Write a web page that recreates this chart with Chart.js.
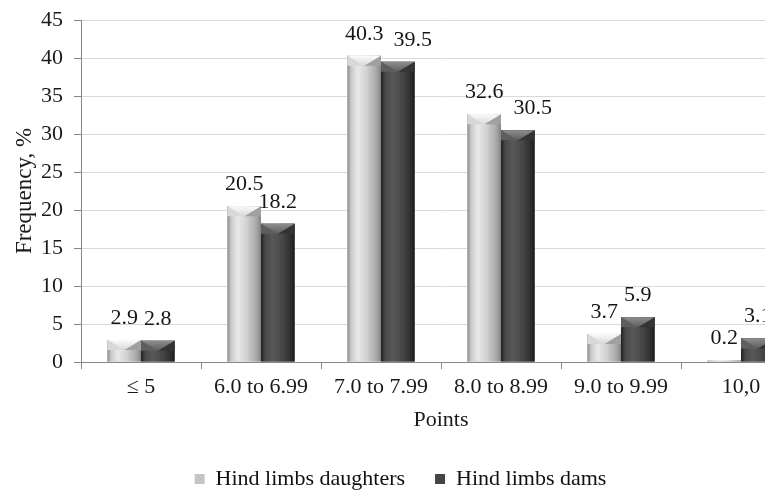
<!DOCTYPE html>
<html>
<head>
<meta charset="utf-8">
<style>
  html, body { margin: 0; padding: 0; overflow: hidden; background: #ffffff; }
  canvas { display: block; }
</style>
<script src="https://cdn.jsdelivr.net/npm/chart.js@4.4.1/dist/chart.umd.min.js"></script>
</head>
<body>
<canvas id="chart" width="840" height="490"></canvas>
<script>
// Score classes and frequencies (%) of hind-limb scores
const categories = ['\u2264 5', '6.0 to 6.99', '7.0 to 7.99', '8.0 to 8.99', '9.0 to 9.99', '10,0'];
const daughters = [2.9, 20.5, 40.3, 32.6, 3.7, 0.2];
const dams = [2.8, 18.2, 39.5, 30.5, 5.9, 3.1];
const seriesNames = ['Hind limbs daughters', 'Hind limbs dams'];
const yMin = 0, yMax = 45, yStep = 5;

const FONT = 'Liberation Serif';

// Shading used to give each bar a bevelled, cylindrical look
const lightShade = {
  base: '#c4c4c4',
  body: [[0, '#8e8e8e'], [0.12, '#cbcbcb'], [0.3, '#e8e8e8'], [0.55, '#d4d4d4'], [0.85, '#aaaaaa'], [1, '#848484']],
  cap: '#fbfbfb', capLeft: '#d8d8d8', capRight: '#a0a0a0'
};
const darkShade = {
  base: '#454545',
  body: [[0, '#202020'], [0.12, '#484848'], [0.35, '#585858'], [0.65, '#464646'], [0.9, '#2c2c2c'], [1, '#1c1c1c']],
  cap: '#8e8e8e', capLeft: '#5e5e5e', capRight: '#343434'
};

const bevelBars = {
  id: 'bevelBars',
  afterDatasetsDraw(chart) {
    const ctx = chart.ctx;
    chart.data.datasets.forEach((ds, di) => {
      const meta = chart.getDatasetMeta(di);
      const shade = ds.shade;
      meta.data.forEach(bar => {
        const p = bar.getProps(['x', 'y', 'base', 'width'], true);
        const x0 = p.x - p.width / 2, x1 = p.x + p.width / 2;
        const top = p.y, h = p.base - p.y;
        if (h <= 0) return;
        ctx.save();
        const g = ctx.createLinearGradient(x0, 0, x1, 0);
        shade.body.forEach(([o, c]) => g.addColorStop(o, c));
        ctx.fillStyle = g;
        ctx.fillRect(x0, top, p.width, h);
        const bh = Math.min(10, h * 0.55);
        // left facet
        ctx.fillStyle = shade.capLeft;
        ctx.beginPath();
        ctx.moveTo(x0, top); ctx.lineTo(p.x, top + bh); ctx.lineTo(x0, top + bh); ctx.closePath();
        ctx.fill();
        // right facet
        ctx.fillStyle = shade.capRight;
        ctx.beginPath();
        ctx.moveTo(x1, top); ctx.lineTo(p.x, top + bh); ctx.lineTo(x1, top + bh); ctx.closePath();
        ctx.fill();
        // top facet
        const cg = ctx.createLinearGradient(0, top, 0, top + bh);
        cg.addColorStop(0, shade.cap);
        cg.addColorStop(1, shade.capLeft);
        ctx.fillStyle = cg;
        ctx.beginPath();
        ctx.moveTo(x0, top); ctx.lineTo(x1, top); ctx.lineTo(p.x, top + bh); ctx.closePath();
        ctx.fill();
        ctx.restore();
      });
    });
  }
};

// Value labels above the bars; a label that would collide with the
// label of the neighbouring bar in the same group is nudged to the right.
const valueLabels = {
  id: 'valueLabels',
  afterDatasetsDraw(chart) {
    const ctx = chart.ctx;
    ctx.save();
    ctx.font = '22px "' + FONT + '"';
    ctx.fillStyle = '#151515';
    ctx.textAlign = 'left';
    ctx.textBaseline = 'alphabetic';
    const placed = [];
    chart.data.datasets.forEach((ds, di) => {
      const meta = chart.getDatasetMeta(di);
      meta.data.forEach((bar, i) => {
        const text = ds.data[i].toFixed(1);
        const w = ctx.measureText(text).width;
        let left = bar.x - w / 2;
        const base = bar.y - 16;
        const prev = di > 0 ? placed[(di - 1) * 1000 + i] : null;
        if (prev && Math.abs(prev.base - base) < 17 && left < prev.right) {
          left = prev.right + 10;
        }
        ctx.fillText(text, left, base);
        placed[di * 1000 + i] = { right: left + w, base };
      });
    });
    ctx.restore();
  }
};

new Chart(document.getElementById('chart'), {
  type: 'bar',
  data: {
    labels: categories,
    datasets: [
      { label: seriesNames[0], data: daughters, backgroundColor: lightShade.base, shade: lightShade,
        borderWidth: 0, categoryPercentage: 0.56, barPercentage: 1 },
      { label: seriesNames[1], data: dams, backgroundColor: darkShade.base, shade: darkShade,
        borderWidth: 0, categoryPercentage: 0.56, barPercentage: 1 }
    ]
  },
  options: {
    responsive: false,
    animation: false,
    events: [],
    layout: { padding: { top: 20, right: 39, bottom: -10, left: 0 } },
    scales: {
      x: {
        grid: { display: true, drawOnChartArea: false, drawTicks: true, tickLength: 7, color: '#868686', offset: true },
        border: { display: true, color: '#868686' },
        ticks: { color: '#1a1a1a', font: { family: FONT, size: 22 }, padding: 5, maxRotation: 0, autoSkip: false },
        title: { display: true, text: 'Points', color: '#1a1a1a', font: { family: FONT, size: 22 }, padding: { top: 4, bottom: 5 } },
        afterFit(scale) { scale.height = 76; }
      },
      y: {
        min: yMin, max: yMax,
        grid: { color: '#d9d9d9', tickColor: '#868686', tickLength: 7 },
        border: { display: true, color: '#868686' },
        ticks: { stepSize: yStep, color: '#1a1a1a', font: { family: FONT, size: 22 }, padding: 11 },
        title: { display: true, text: 'Frequency, %', color: '#1a1a1a', font: { family: FONT, size: 23 }, padding: { top: 11, bottom: 0 } },
        afterFit(scale) {
          scale.width = 81;
          scale.paddingTop = 0;
          scale.paddingBottom = 0;
        }
      }
    },
    plugins: {
      legend: {
        position: 'bottom',
        labels: { boxWidth: 10, boxHeight: 10, color: '#111111', font: { family: FONT, size: 22 }, padding: 30 }
      },
      tooltip: { enabled: false }
    }
  },
  plugins: [bevelBars, valueLabels]
});
</script>
</body>
</html>
